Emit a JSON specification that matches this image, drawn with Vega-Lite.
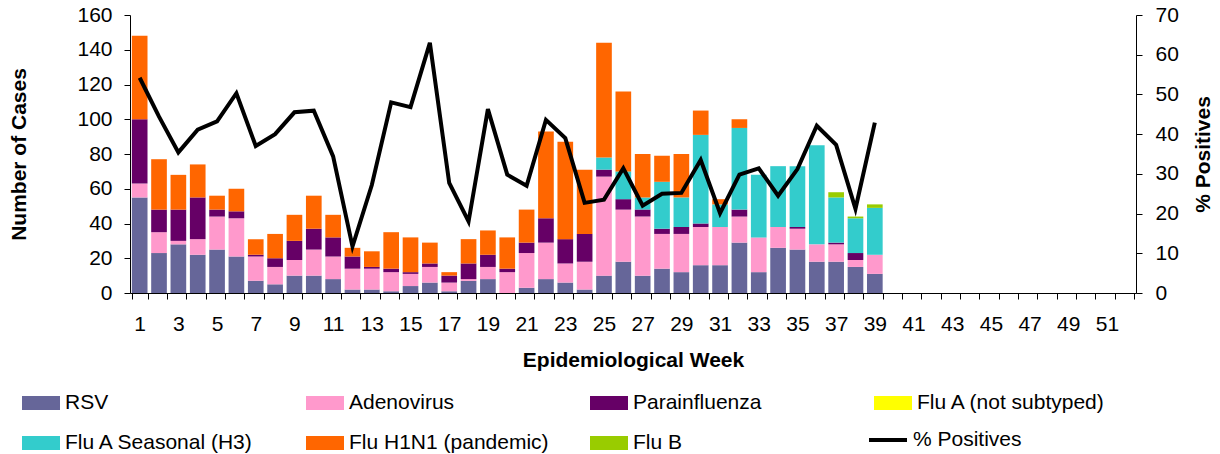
{
  "$schema": "https://vega.github.io/schema/vega-lite/v6.json",
  "width": 1006,
  "height": 278,
  "autosize": {"type": "none"},
  "padding": {"left": 130, "top": 15, "right": 84, "bottom": 161},
  "background": "white",
  "config": {
    "view": {"stroke": null},
    "font": "Liberation Sans",
    "axis": {
      "labelFont": "Liberation Sans", "titleFont": "Liberation Sans",
      "labelFontSize": 21, "titleFontSize": 21, "titleFontWeight": "bold",
      "labelColor": "black", "titleColor": "black",
      "domainColor": "black", "tickColor": "black", "grid": false,
      "tickSize": 6, "domainWidth": 1, "tickWidth": 1
    },
    "legend": {
      "labelFont": "Liberation Sans", "labelFontSize": 21, "labelColor": "black", "labelLimit": 400
    }
  },
  "datasets": {
    "cases": [
      {"week":1,"virus":"RSV","cases":55},{"week":1,"virus":"Adenovirus","cases":8},{"week":1,"virus":"Parainfluenza","cases":37},{"week":1,"virus":"Flu H1N1 (pandemic)","cases":48},
      {"week":2,"virus":"RSV","cases":23},{"week":2,"virus":"Adenovirus","cases":12},{"week":2,"virus":"Parainfluenza","cases":13},{"week":2,"virus":"Flu H1N1 (pandemic)","cases":29},
      {"week":3,"virus":"RSV","cases":28},{"week":3,"virus":"Adenovirus","cases":2},{"week":3,"virus":"Parainfluenza","cases":18},{"week":3,"virus":"Flu H1N1 (pandemic)","cases":20},
      {"week":4,"virus":"RSV","cases":22},{"week":4,"virus":"Adenovirus","cases":9},{"week":4,"virus":"Parainfluenza","cases":24},{"week":4,"virus":"Flu H1N1 (pandemic)","cases":19},
      {"week":5,"virus":"RSV","cases":25},{"week":5,"virus":"Adenovirus","cases":19},{"week":5,"virus":"Parainfluenza","cases":4},{"week":5,"virus":"Flu H1N1 (pandemic)","cases":8},
      {"week":6,"virus":"RSV","cases":21},{"week":6,"virus":"Adenovirus","cases":22},{"week":6,"virus":"Parainfluenza","cases":4},{"week":6,"virus":"Flu H1N1 (pandemic)","cases":13},
      {"week":7,"virus":"RSV","cases":7},{"week":7,"virus":"Adenovirus","cases":14},{"week":7,"virus":"Parainfluenza","cases":1},{"week":7,"virus":"Flu H1N1 (pandemic)","cases":9},
      {"week":8,"virus":"RSV","cases":5},{"week":8,"virus":"Adenovirus","cases":10},{"week":8,"virus":"Parainfluenza","cases":5},{"week":8,"virus":"Flu H1N1 (pandemic)","cases":14},
      {"week":9,"virus":"RSV","cases":10},{"week":9,"virus":"Adenovirus","cases":9},{"week":9,"virus":"Parainfluenza","cases":11},{"week":9,"virus":"Flu H1N1 (pandemic)","cases":15},
      {"week":10,"virus":"RSV","cases":10},{"week":10,"virus":"Adenovirus","cases":15},{"week":10,"virus":"Parainfluenza","cases":12},{"week":10,"virus":"Flu H1N1 (pandemic)","cases":19},
      {"week":11,"virus":"RSV","cases":8},{"week":11,"virus":"Adenovirus","cases":13},{"week":11,"virus":"Parainfluenza","cases":11},{"week":11,"virus":"Flu H1N1 (pandemic)","cases":13},
      {"week":12,"virus":"RSV","cases":2},{"week":12,"virus":"Adenovirus","cases":12},{"week":12,"virus":"Parainfluenza","cases":7},{"week":12,"virus":"Flu H1N1 (pandemic)","cases":5},
      {"week":13,"virus":"RSV","cases":2},{"week":13,"virus":"Adenovirus","cases":12},{"week":13,"virus":"Parainfluenza","cases":1},{"week":13,"virus":"Flu H1N1 (pandemic)","cases":9},
      {"week":14,"virus":"RSV","cases":1},{"week":14,"virus":"Adenovirus","cases":11},{"week":14,"virus":"Parainfluenza","cases":2},{"week":14,"virus":"Flu H1N1 (pandemic)","cases":21},
      {"week":15,"virus":"RSV","cases":4},{"week":15,"virus":"Adenovirus","cases":7},{"week":15,"virus":"Parainfluenza","cases":1},{"week":15,"virus":"Flu H1N1 (pandemic)","cases":20},
      {"week":16,"virus":"RSV","cases":6},{"week":16,"virus":"Adenovirus","cases":9},{"week":16,"virus":"Parainfluenza","cases":2},{"week":16,"virus":"Flu H1N1 (pandemic)","cases":12},
      {"week":17,"virus":"RSV","cases":1},{"week":17,"virus":"Adenovirus","cases":5},{"week":17,"virus":"Parainfluenza","cases":4},{"week":17,"virus":"Flu H1N1 (pandemic)","cases":2},
      {"week":18,"virus":"RSV","cases":7},{"week":18,"virus":"Adenovirus","cases":1},{"week":18,"virus":"Parainfluenza","cases":9},{"week":18,"virus":"Flu H1N1 (pandemic)","cases":14},
      {"week":19,"virus":"RSV","cases":8},{"week":19,"virus":"Adenovirus","cases":7},{"week":19,"virus":"Parainfluenza","cases":7},{"week":19,"virus":"Flu H1N1 (pandemic)","cases":14},
      {"week":20,"virus":"Adenovirus","cases":12},{"week":20,"virus":"Parainfluenza","cases":2},{"week":20,"virus":"Flu H1N1 (pandemic)","cases":18},
      {"week":21,"virus":"RSV","cases":3},{"week":21,"virus":"Adenovirus","cases":20},{"week":21,"virus":"Parainfluenza","cases":6},{"week":21,"virus":"Flu H1N1 (pandemic)","cases":19},
      {"week":22,"virus":"RSV","cases":8},{"week":22,"virus":"Adenovirus","cases":21},{"week":22,"virus":"Parainfluenza","cases":14},{"week":22,"virus":"Flu H1N1 (pandemic)","cases":50},
      {"week":23,"virus":"RSV","cases":6},{"week":23,"virus":"Adenovirus","cases":11},{"week":23,"virus":"Parainfluenza","cases":14},{"week":23,"virus":"Flu H1N1 (pandemic)","cases":56},
      {"week":24,"virus":"RSV","cases":2},{"week":24,"virus":"Adenovirus","cases":16},{"week":24,"virus":"Parainfluenza","cases":16},{"week":24,"virus":"Flu H1N1 (pandemic)","cases":37},
      {"week":25,"virus":"RSV","cases":10},{"week":25,"virus":"Adenovirus","cases":57},{"week":25,"virus":"Parainfluenza","cases":4},{"week":25,"virus":"Flu A Seasonal (H3)","cases":7},{"week":25,"virus":"Flu H1N1 (pandemic)","cases":66},
      {"week":26,"virus":"RSV","cases":18},{"week":26,"virus":"Adenovirus","cases":30},{"week":26,"virus":"Parainfluenza","cases":6},{"week":26,"virus":"Flu A Seasonal (H3)","cases":16},{"week":26,"virus":"Flu H1N1 (pandemic)","cases":46},
      {"week":27,"virus":"RSV","cases":10},{"week":27,"virus":"Adenovirus","cases":34},{"week":27,"virus":"Parainfluenza","cases":4},{"week":27,"virus":"Flu A Seasonal (H3)","cases":7},{"week":27,"virus":"Flu H1N1 (pandemic)","cases":25},
      {"week":28,"virus":"RSV","cases":14},{"week":28,"virus":"Adenovirus","cases":20},{"week":28,"virus":"Parainfluenza","cases":3},{"week":28,"virus":"Flu A Seasonal (H3)","cases":27},{"week":28,"virus":"Flu H1N1 (pandemic)","cases":15},
      {"week":29,"virus":"RSV","cases":12},{"week":29,"virus":"Adenovirus","cases":22},{"week":29,"virus":"Parainfluenza","cases":4},{"week":29,"virus":"Flu A Seasonal (H3)","cases":17},{"week":29,"virus":"Flu H1N1 (pandemic)","cases":25},
      {"week":30,"virus":"RSV","cases":16},{"week":30,"virus":"Adenovirus","cases":22},{"week":30,"virus":"Parainfluenza","cases":2},{"week":30,"virus":"Flu A Seasonal (H3)","cases":51},{"week":30,"virus":"Flu H1N1 (pandemic)","cases":14},
      {"week":31,"virus":"RSV","cases":16},{"week":31,"virus":"Adenovirus","cases":22},{"week":31,"virus":"Flu A Seasonal (H3)","cases":13},{"week":31,"virus":"Flu H1N1 (pandemic)","cases":3},
      {"week":32,"virus":"RSV","cases":29},{"week":32,"virus":"Adenovirus","cases":15},{"week":32,"virus":"Parainfluenza","cases":4},{"week":32,"virus":"Flu A Seasonal (H3)","cases":47},{"week":32,"virus":"Flu H1N1 (pandemic)","cases":5},
      {"week":33,"virus":"RSV","cases":12},{"week":33,"virus":"Adenovirus","cases":20},{"week":33,"virus":"Flu A Seasonal (H3)","cases":36},
      {"week":34,"virus":"RSV","cases":26},{"week":34,"virus":"Adenovirus","cases":12},{"week":34,"virus":"Flu A Seasonal (H3)","cases":35},
      {"week":35,"virus":"RSV","cases":25},{"week":35,"virus":"Adenovirus","cases":12},{"week":35,"virus":"Parainfluenza","cases":1},{"week":35,"virus":"Flu A Seasonal (H3)","cases":35},
      {"week":36,"virus":"RSV","cases":18},{"week":36,"virus":"Adenovirus","cases":10},{"week":36,"virus":"Flu A Seasonal (H3)","cases":57},
      {"week":37,"virus":"RSV","cases":18},{"week":37,"virus":"Adenovirus","cases":10},{"week":37,"virus":"Parainfluenza","cases":1},{"week":37,"virus":"Flu A Seasonal (H3)","cases":26},{"week":37,"virus":"Flu B","cases":3},
      {"week":38,"virus":"RSV","cases":15},{"week":38,"virus":"Adenovirus","cases":4},{"week":38,"virus":"Parainfluenza","cases":4},{"week":38,"virus":"Flu A Seasonal (H3)","cases":20},{"week":38,"virus":"Flu B","cases":1},
      {"week":39,"virus":"RSV","cases":11},{"week":39,"virus":"Adenovirus","cases":11},{"week":39,"virus":"Flu A Seasonal (H3)","cases":27},{"week":39,"virus":"Flu B","cases":2}
    ],
    "pct": [
      {"week":1,"pct":54.2},{"week":2,"pct":44.4},{"week":3,"pct":35.4},{"week":4,"pct":41.1},{"week":5,"pct":43.2},
      {"week":6,"pct":50.3},{"week":7,"pct":37},{"week":8,"pct":40},{"week":9,"pct":45.5},{"week":10,"pct":45.9},
      {"week":11,"pct":34.4},{"week":12,"pct":11.7},{"week":13,"pct":27.2},{"week":14,"pct":48},{"week":15,"pct":46.8},
      {"week":16,"pct":63},{"week":17,"pct":27.7},{"week":18,"pct":18},{"week":19,"pct":46.3},{"week":20,"pct":29.8},
      {"week":21,"pct":27},{"week":22,"pct":43.6},{"week":23,"pct":39},{"week":24,"pct":22.7},{"week":25,"pct":23.5},
      {"week":26,"pct":31.4},{"week":27,"pct":22},{"week":28,"pct":25},{"week":29,"pct":25.2},{"week":30,"pct":33.5},
      {"week":31,"pct":20.1},{"week":32,"pct":29.8},{"week":33,"pct":31.4},{"week":34,"pct":24.5},{"week":35,"pct":31.2},
      {"week":36,"pct":42.1},{"week":37,"pct":37.3},{"week":38,"pct":21.2},{"week":39,"pct":42.9}
    ]
  },
  "layer": [
    {
      "data": {"name": "cases"},
      "transform": [
        {"calculate": "indexof(['RSV', 'Adenovirus', 'Parainfluenza', 'Flu A (not subtyped)', 'Flu A Seasonal (H3)', 'Flu H1N1 (pandemic)', 'Flu B'], datum.virus)", "as": "stackOrder"}
      ],
      "mark": {"type": "bar"},
      "encoding": {
        "x": {
          "field": "week", "type": "ordinal",
          "scale": {"domain": [1,2,3,4,5,6,7,8,9,10,11,12,13,14,15,16,17,18,19,20,21,22,23,24,25,26,27,28,29,30,31,32,33,34,35,36,37,38,39,40,41,42,43,44,45,46,47,48,49,50,51,52], "paddingInner": 0.19, "paddingOuter": 0.095},
          "axis": {
            "title": "Epidemiological Week", "labelAngle": 0, "tickBand": "extent",
            "labelExpr": "datum.value % 2 == 1 ? datum.label : ''",
            "labelPadding": 14, "titlePadding": 15, "labelOverlap": false
          }
        },
        "y": {
          "field": "cases", "type": "quantitative", "stack": "zero",
          "scale": {"domain": [0, 160], "nice": false},
          "axis": {"title": "Number of Cases", "values": [0,20,40,60,80,100,120,140,160], "labelPadding": 12, "titlePadding": 47}
        },
        "order": {"field": "stackOrder", "type": "quantitative", "sort": "ascending"},
        "color": {
          "field": "virus", "type": "nominal",
          "scale": {
            "domain": ["RSV", "Adenovirus", "Parainfluenza", "Flu A (not subtyped)", "Flu A Seasonal (H3)", "Flu H1N1 (pandemic)", "Flu B"],
            "range": ["#666699", "#FF99CC", "#660066", "#FFFF00", "#33CCCC", "#FF6600", "#99CC00"]
          },
          "legend": {
            "title": null, "orient": "none", "legendX": -108, "legendY": 369,
            "direction": "horizontal", "columns": 4, "gridAlign": "all",
            "columnPadding": 41, "rowPadding": 11, "padding": 0,
            "symbolType": "M-1,-0.368H1V0.368H-1Z", "symbolSize": 1444, "symbolStrokeWidth": 0,
            "labelOffset": 5
          }
        }
      }
    },
    {
      "data": {"name": "pct"},
      "mark": {"type": "line", "strokeWidth": 4},
      "encoding": {
        "x": {"field": "week", "type": "ordinal", "bandPosition": 0.5},
        "y": {
          "field": "pct", "type": "quantitative",
          "scale": {"domain": [0, 70], "nice": false},
          "axis": {"orient": "right", "title": "% Positives", "values": [0,10,20,30,40,50,60,70], "labelPadding": 13, "titleAngle": 270, "titleBaseline": "top", "titlePadding": 14}
        },
        "stroke": {
          "datum": "% Positives", "type": "nominal",
          "scale": {"domain": ["% Positives"], "range": ["black"]},
          "legend": {
            "title": null, "orient": "none", "legendX": 737, "legendY": 404, "padding": 0,
            "symbolType": "stroke", "symbolSize": 1444, "symbolStrokeWidth": 4, "symbolStrokeColor": "black",
            "labelOffset": 4
          }
        }
      }
    }
  ],
  "resolve": {"scale": {"y": "independent"}}
}
